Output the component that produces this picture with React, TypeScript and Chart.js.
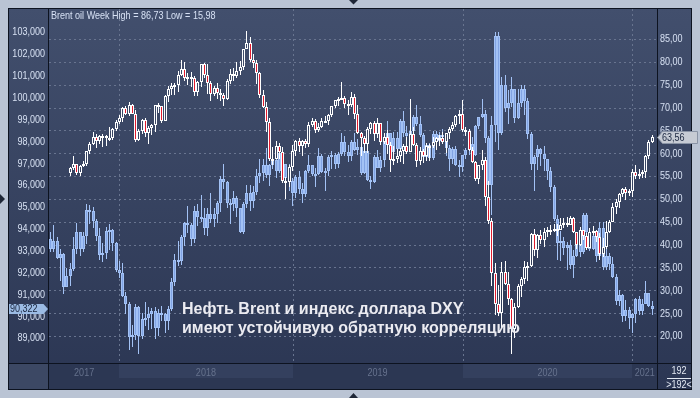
import { useEffect, useRef } from 'react';
import { Chart, registerables } from 'chart.js';

Chart.register(...registerables);

// ---------- data ----------
const firstWeek = '2017-08-07';
const weekCount = 186;

const dxyFirstOpen = 93.54;
const dxyClose = [
  93.06, 93.42, 92.68, 92.83, 91.35, 91.85, 92.16, 93.08, 93.83, 93.07,
  93.68, 94.88, 94.83, 94.37, 93.66, 92.81, 92.89, 93.91, 93.92, 93.35,
  92.12, 91.96, 90.94, 90.57, 89.04, 89.16, 90.41, 89.09, 89.88, 89.94,
  90.11, 90.25, 89.45, 90.16, 90.09, 89.80, 90.32, 91.55, 92.56, 92.52,
  93.64, 94.25, 94.18, 93.55, 94.80, 94.52, 94.47, 94.03, 94.67, 94.45,
  94.66, 95.16, 96.28, 96.12, 95.17, 95.14, 95.40, 94.93, 93.87, 95.13,
  95.63, 95.25, 95.70, 96.41, 96.54, 96.91, 96.45, 96.92, 97.16, 96.65,
  97.45, 96.96, 96.34, 96.18, 95.65, 96.36, 95.80, 95.58, 96.63, 96.90,
  96.51, 96.52, 97.31, 96.60, 96.63, 97.28, 97.39, 96.94, 97.40, 97.96,
  97.52, 97.33, 97.99, 97.62, 97.75, 96.54, 97.57, 96.21, 96.13, 97.30,
  96.80, 97.16, 98.02, 98.40, 97.52, 98.15, 97.66, 98.92, 98.40, 98.26,
  98.48, 99.11, 98.81, 98.30, 97.28, 97.83, 97.24, 98.35, 98.01, 98.27,
  98.27, 97.70, 97.17, 97.67, 96.92, 96.84, 97.36, 97.61, 97.87, 97.39,
  98.69, 99.10, 99.26, 98.13, 95.99, 98.75, 102.82, 98.36, 100.59, 99.52,
  99.75, 100.37, 99.07, 99.73, 100.38, 99.86, 98.34, 96.94, 97.30, 97.64,
  97.43, 97.17, 96.64, 95.90, 94.44, 93.35, 93.43, 93.10, 93.24, 92.36,
  92.75, 93.30, 92.93, 94.64, 93.84, 93.06, 93.68, 92.77, 94.04, 92.23,
  92.76, 92.39, 91.79, 90.70, 90.98, 90.02, 90.30, 89.94, 90.10, 90.77,
  90.24, 90.58, 91.04, 90.48, 90.322,
];
const dxyHigh = [
  93.87, 94.15, 93.61, 93.09, 92.87, 92.21, 92.44, 93.60, 94.27, 93.83,
  93.85, 95.15, 95.07, 94.98, 94.43, 94.05, 93.33, 94.08, 94.21, 93.98,
  93.39, 92.54, 92.43, 91.13, 90.64, 89.58, 90.56, 90.46, 90.13, 90.63,
  90.44, 90.36, 90.44, 90.31, 90.45, 90.13, 90.47, 91.77, 92.84, 93.42,
  93.71, 94.31, 95.03, 94.28, 95.05, 95.15, 95.53, 94.97, 94.96, 95.65,
  94.95, 95.26, 96.43, 96.98, 96.20, 95.35, 95.74, 95.48, 94.95, 95.24,
  96.00, 95.99, 95.95, 96.74, 97.20, 97.18, 97.69, 96.98, 97.53, 97.26,
  97.71, 97.44, 96.98, 96.96, 96.30, 96.45, 96.64, 96.10, 96.70, 97.37,
  96.90, 96.76, 97.71, 97.41, 96.78, 97.35, 97.55, 97.48, 97.50, 98.37,
  98.26, 97.82, 98.05, 98.37, 98.09, 97.85, 97.58, 97.70, 96.39, 97.35,
  97.59, 97.34, 98.09, 98.93, 98.22, 98.42, 98.44, 99.00, 99.37, 98.71,
  98.62, 99.21, 99.67, 99.14, 98.38, 97.86, 97.92, 98.45, 98.45, 98.41,
  98.54, 98.38, 97.85, 97.74, 97.80, 97.13, 97.39, 97.70, 97.98, 98.19,
  98.74, 99.11, 99.92, 99.43, 98.25, 99.14, 103.00, 102.99, 100.93, 101.03,
  100.36, 100.93, 100.37, 100.40, 100.56, 100.56, 99.97, 98.41, 97.36, 97.85,
  97.71, 97.80, 97.15, 96.84, 95.99, 94.62, 93.91, 93.63, 93.39, 93.49,
  93.04, 93.56, 93.37, 94.74, 94.74, 94.03, 93.90, 93.79, 94.30, 94.31,
  93.21, 92.90, 92.70, 91.92, 91.20, 91.03, 90.73, 90.40, 90.15, 90.81,
  90.93, 90.80, 91.60, 91.06, 90.71,
];
const dxyLow = [
  92.93, 92.95, 92.60, 91.62, 91.01, 91.33, 91.40, 92.08, 92.85, 92.75,
  92.95, 93.32, 94.20, 94.05, 93.46, 92.57, 92.50, 92.62, 93.03, 93.00,
  92.00, 91.75, 90.87, 90.10, 88.44, 88.60, 88.91, 88.25, 88.98, 89.54,
  89.36, 89.40, 88.95, 89.09, 89.77, 89.23, 89.38, 90.26, 91.36, 92.30,
  92.35, 93.21, 93.80, 93.20, 93.36, 94.12, 94.31, 93.71, 93.69, 94.26,
  94.06, 94.26, 94.78, 95.82, 94.94, 94.20, 94.82, 94.52, 93.81, 93.78,
  94.97, 94.79, 94.94, 95.53, 96.08, 96.19, 96.34, 95.97, 96.74, 96.34,
  96.56, 96.20, 96.22, 95.71, 95.03, 95.40, 95.60, 95.16, 95.45, 96.53,
  96.40, 95.89, 96.45, 96.54, 95.74, 96.39, 96.73, 96.74, 96.76, 97.32,
  97.33, 97.03, 97.09, 97.55, 97.36, 96.46, 96.51, 96.20, 95.84, 96.07,
  96.76, 96.59, 96.84, 97.85, 97.03, 97.24, 97.62, 97.79, 98.21, 97.76,
  97.95, 98.43, 98.68, 98.18, 97.20, 97.15, 97.10, 97.14, 97.87, 97.82,
  98.09, 97.34, 96.62, 96.95, 96.89, 96.36, 96.60, 97.17, 97.39, 97.35,
  97.33, 98.54, 99.05, 97.92, 95.97, 94.65, 97.99, 97.61, 98.27, 99.34,
  98.81, 99.56, 98.82, 99.01, 99.58, 99.18, 98.09, 96.68, 95.71, 96.70,
  96.87, 96.63, 96.23, 95.69, 94.36, 92.55, 92.52, 92.81, 92.13, 92.14,
  91.75, 92.72, 92.70, 92.85, 93.61, 92.97, 93.03, 92.47, 92.74, 92.13,
  92.13, 92.13, 91.76, 90.50, 90.48, 89.73, 89.80, 89.42, 89.21, 89.69,
  90.04, 90.06, 90.57, 90.42, 90.06,
];

const brentFirstWeek = 6;
const brentFirstOpen = 55.62;
const brentClose = [
  56.86, 57.54, 55.62, 57.17, 57.75, 60.44, 62.07, 63.52, 62.72, 63.86,
  63.73, 63.40, 63.23, 65.25, 66.87, 67.62, 69.87, 68.61, 70.52, 68.58,
  62.79, 64.84, 67.31, 64.37, 65.49, 66.21, 70.45, 70.27, 67.11, 72.58,
  74.06, 74.64, 74.87, 77.12, 78.51, 76.44, 76.79, 76.46, 73.44, 75.55,
  79.44, 77.11, 75.33, 73.07, 74.29, 73.21, 72.81, 71.83, 75.82, 77.42,
  76.83, 78.09, 78.80, 82.72, 84.16, 80.43, 79.78, 77.62, 72.83, 70.18,
  66.76, 58.80, 58.71, 61.67, 60.28, 53.82, 53.80, 57.06, 60.48, 62.70,
  61.64, 62.75, 62.10, 66.25, 67.12, 65.07, 65.74, 67.16, 67.03, 68.39,
  70.34, 71.55, 71.97, 72.15, 70.85, 70.62, 72.21, 68.69, 64.49, 63.29,
  62.01, 65.20, 66.55, 64.23, 66.72, 62.47, 63.46, 61.89, 58.53, 58.64,
  59.34, 60.43, 61.54, 60.22, 64.28, 61.91, 58.37, 60.51, 59.42, 61.67,
  61.69, 62.51, 63.30, 63.39, 62.43, 64.39, 65.22, 66.14, 68.16, 68.60,
  64.98, 64.85, 60.69, 58.16, 54.47, 57.32, 58.50, 50.52, 45.27, 33.85,
  26.98, 24.93, 34.11, 31.48, 28.08, 21.44, 26.44, 30.97, 32.50, 35.13,
  35.33, 42.30, 38.73, 42.19, 41.02, 42.80, 43.24, 43.14, 43.34, 43.30,
  44.40, 44.80, 44.35, 45.81, 42.66, 39.83, 43.15, 41.92, 39.27, 42.85,
  42.93, 41.77, 37.94, 39.45, 42.78, 44.96, 48.18, 49.25, 50.97, 52.26,
  51.29, 51.80, 55.99, 55.10, 55.41, 55.88, 59.34, 62.43, 63.56,
];
const brentHigh = [
  57.00, 59.49, 57.62, 57.32, 58.37, 60.53, 62.44, 64.65, 64.24, 64.10,
  64.18, 64.10, 65.83, 65.45, 67.29, 68.27, 70.05, 70.37, 71.28, 70.74,
  69.45, 65.27, 67.58, 67.68, 66.05, 66.47, 70.58, 71.02, 69.94, 72.70,
  74.75, 75.47, 75.30, 78.00, 80.50, 80.00, 77.50, 77.86, 77.00, 75.72,
  79.49, 79.70, 79.50, 75.78, 74.77, 75.40, 74.14, 73.22, 76.19, 78.35,
  78.63, 79.93, 80.13, 82.87, 86.74, 85.45, 81.63, 80.40, 77.69, 73.82,
  71.17, 67.80, 61.27, 62.74, 62.16, 61.27, 54.81, 57.38, 61.91, 62.96,
  63.31, 62.88, 63.19, 66.83, 67.73, 67.49, 66.59, 67.68, 68.26, 68.62,
  70.40, 71.66, 72.27, 75.60, 72.63, 71.67, 73.33, 73.02, 70.45, 64.66,
  63.87, 65.79, 66.81, 67.11, 67.64, 66.72, 64.48, 65.19, 62.50, 61.48,
  60.87, 61.15, 62.04, 63.45, 71.95, 65.85, 62.34, 61.36, 60.83, 62.18,
  61.97, 63.49, 63.48, 64.00, 64.66, 64.45, 65.84, 66.82, 68.28, 69.50,
  71.75, 65.76, 65.26, 61.43, 58.28, 57.43, 60.63, 59.26, 53.99, 45.86,
  35.94, 31.22, 36.25, 36.36, 33.99, 28.35, 27.18, 31.45, 32.92, 36.34,
  36.11, 42.65, 43.41, 42.35, 43.18, 43.61, 43.90, 44.29, 44.59, 44.44,
  45.88, 45.80, 46.00, 46.32, 46.03, 42.64, 43.81, 43.29, 42.50, 43.71,
  43.97, 43.30, 42.45, 41.46, 45.12, 45.29, 49.02, 49.92, 51.24, 52.48,
  52.53, 52.10, 56.60, 57.42, 56.61, 56.35, 59.61, 62.83, 64.10,
];
const brentLow = [
  55.10, 56.38, 55.33, 55.05, 56.90, 57.10, 59.90, 61.85, 61.24, 61.98,
  61.42, 61.58, 62.62, 62.91, 64.83, 66.45, 66.83, 68.27, 68.19, 68.53,
  62.53, 62.59, 64.27, 63.56, 62.05, 63.98, 64.68, 68.70, 66.62, 67.05,
  71.16, 72.66, 72.80, 73.44, 77.00, 75.82, 74.84, 74.50, 72.63, 72.45,
  74.55, 76.57, 73.03, 71.40, 72.54, 71.84, 71.46, 70.32, 71.76, 75.17,
  75.91, 76.38, 77.11, 78.26, 82.77, 79.95, 78.59, 75.09, 72.17, 69.87,
  64.61, 58.41, 57.50, 58.72, 58.69, 53.54, 50.00, 52.72, 56.18, 59.44,
  60.21, 59.46, 61.05, 61.29, 65.70, 64.50, 64.59, 65.52, 66.64, 66.25,
  67.83, 69.81, 70.39, 71.73, 69.81, 68.36, 70.20, 67.54, 64.18, 59.45,
  59.97, 60.14, 64.21, 62.60, 63.44, 61.74, 62.06, 59.81, 55.88, 57.51,
  57.88, 58.03, 57.67, 59.75, 63.00, 61.55, 56.98, 57.38, 57.84, 58.29,
  58.41, 61.08, 60.72, 61.68, 62.03, 60.08, 63.15, 64.88, 65.72, 66.45,
  64.55, 63.84, 60.55, 57.78, 53.90, 53.37, 56.43, 48.40, 44.43, 31.02,
  24.52, 24.45, 21.65, 31.14, 26.83, 15.98, 19.58, 26.22, 28.55, 31.40,
  32.10, 35.08, 37.61, 37.10, 40.22, 39.39, 41.64, 42.03, 42.67, 41.94,
  43.13, 43.62, 43.94, 44.56, 42.57, 39.01, 39.64, 40.94, 38.74, 39.25,
  42.18, 40.60, 36.64, 37.32, 39.11, 42.47, 45.25, 46.63, 48.08, 50.47,
  49.66, 50.59, 50.44, 54.37, 54.39, 54.60, 54.51, 58.72, 62.18,
];

const dxyTicks = [89, 90, 91, 92, 93, 94, 95, 96, 97, 98, 99, 100, 101, 102, 103];
const brentTicks = [20, 25, 30, 35, 40, 45, 50, 55, 60, 65, 70, 75, 80, 85];
const titleText = 'Brent oil Week High = 86,73 Low = 15,98';
const noteLines = ['Нефть Brent и индекс доллара DXY', 'имеют устойчивую обратную корреляцию'];
const barCountText = ['192', '>192<'];

// ---------- styling ----------
const W = 700;
const H = 398;
const SMALL_FONT = '10.5px "Liberation Sans", Arial, sans-serif';
const NARROW_SCALE = 0.86;
const FRAME = '#bac4d4';
const BG_TOP = '#424f6d';
const BG_BOT = '#2b3653';
const GRID = '#68748f';
const DXY_LINE = '#a3c2f5';
const DXY_FILL = '#82a4e4';
const BRENT_LINE = '#ffffff';
const BRENT_DOWN = '#e11b2e';
const AXIS_TEXT = '#d6e0f2';

function bgGradient(ctx: CanvasRenderingContext2D) {
  const g = ctx.createLinearGradient(0, 8, 0, 390);
  g.addColorStop(0, BG_TOP);
  g.addColorStop(1, BG_BOT);
  return g;
}

function weekLabels(): string[] {
  const start = new Date(firstWeek + 'T00:00:00Z').getTime();
  return Array.from({ length: weekCount }, (_, i) =>
    new Date(start + i * 7 * 86400000).toISOString().slice(0, 10)
  );
}

function candles(first: number, open0: number, close: number[], high: number[], low: number[]) {
  const bodies: ([number, number] | null)[] = [];
  const wicks: ([number, number] | null)[] = [];
  for (let i = 0; i < weekCount; i++) {
    const k = i - first;
    if (k < 0 || k >= close.length) {
      bodies.push(null);
      wicks.push(null);
      continue;
    }
    const o = k === 0 ? open0 : close[k - 1];
    const c = close[k];
    bodies.push([o, c]);
    wicks.push([Math.min(low[k], o, c), Math.max(high[k], o, c)]);
  }
  return { bodies, wicks };
}

const fmt = (v: number, d: number) => v.toFixed(d).replace('.', ',');

// condensed small text (the source uses a narrow UI font)
function narrowText(
  ctx: CanvasRenderingContext2D,
  text: string,
  x: number,
  y: number,
  align: CanvasTextAlign,
  baseline: CanvasTextBaseline = 'alphabetic'
) {
  ctx.save();
  ctx.font = SMALL_FONT;
  ctx.translate(x, y);
  ctx.scale(NARROW_SCALE, 1);
  ctx.textAlign = align;
  ctx.textBaseline = baseline;
  ctx.fillText(text, 0, 0);
  ctx.restore();
}

export default function App() {
  const ref = useRef<HTMLCanvasElement>(null);

  useEffect(() => {
    const canvas = ref.current;
    if (!canvas) return;
    const labels = weekLabels();
    const yearStarts: { idx: number; year: string }[] = [];
    labels.forEach((l, i) => {
      if (i > 0 && l.slice(0, 4) !== labels[i - 1].slice(0, 4)) yearStarts.push({ idx: i, year: l.slice(0, 4) });
    });
    const dxy = candles(0, dxyFirstOpen, dxyClose, dxyHigh, dxyLow);
    const brent = candles(brentFirstWeek, brentFirstOpen, brentClose, brentHigh, brentLow);

    const chromePlugin = {
      id: 'chrome',
      beforeDraw(chart: any) {
        const { ctx, chartArea: a } = chart;
        const xs = chart.scales.x;
        ctx.save();
        ctx.fillStyle = FRAME;
        ctx.fillRect(0, 0, W, H);
        ctx.fillStyle = bgGradient(ctx);
        ctx.fillRect(8, 8, 684, 382);
        ctx.fillStyle = '#2c3753';
        ctx.fillRect(a.left, a.bottom, a.right - a.left, 390 - a.bottom);
        const bounds = [a.left, ...yearStarts.map((y) => Math.round(xs.getPixelForValue(y.idx))), a.right];
        for (let s = 0; s < bounds.length - 1; s++) {
          if (s % 2 === 1) {
            ctx.fillStyle = '#34405e';
            ctx.fillRect(bounds[s], a.bottom, bounds[s + 1] - bounds[s], 15);
          }
        }
        ctx.fillStyle = '#3c4864';
        ctx.fillRect(8, a.bottom, a.left - 8, 390 - a.bottom);
        ctx.restore();
      },
      beforeDatasetsDraw(chart: any) {
        const { ctx, chartArea: a } = chart;
        const xs = chart.scales.x;
        const yR = chart.scales.yR;
        ctx.save();
        ctx.strokeStyle = GRID;
        ctx.lineWidth = 1;
        ctx.setLineDash([2, 3]);
        brentTicks.forEach((v) => {
          const y = Math.round(yR.getPixelForValue(v)) + 0.5;
          ctx.beginPath();
          ctx.moveTo(a.left, y);
          ctx.lineTo(a.right, y);
          ctx.stroke();
        });
        yearStarts.forEach((ys) => {
          const x = Math.round(xs.getPixelForValue(ys.idx)) + 0.5;
          ctx.beginPath();
          ctx.moveTo(x, a.top);
          ctx.lineTo(x, a.bottom);
          ctx.stroke();
        });
        ctx.restore();
        // snap candles to the pixel grid
        chart.data.datasets.forEach((ds: any, di: number) => {
          const meta = chart.getDatasetMeta(di);
          meta.data.forEach((el: any) => {
            if (el.x == null || isNaN(el.x)) return;
            el.x = Math.floor(el.x) + 0.5;
            el.y = Math.round(el.y);
            el.base = Math.round(el.base);
            if (ds.isBody && Math.abs(el.base - el.y) < 2) {
              el.base = el.y + 2;
            }
          });
        });
      },
      afterDraw(chart: any) {
        const { ctx, chartArea: a } = chart;
        const xs = chart.scales.x;
        const yL = chart.scales.yL;
        const yR = chart.scales.yR;
        ctx.save();
        // frame lines
        ctx.fillStyle = '#0d1320';
        ctx.fillRect(8, 8, 684, 1);
        ctx.fillRect(8, 8, 1, 382);
        ctx.fillRect(691, 8, 1, 382);
        ctx.fillRect(8, 389, 684, 1);
        ctx.fillRect(a.left - 1, 8, 1, 382);
        ctx.fillRect(a.right, 8, 1, 382);
        ctx.fillRect(8, a.bottom, 684, 1);

        // axis tick labels from the library's scales
        ctx.fillStyle = AXIS_TEXT;
        yL.ticks.forEach((t: any) => {
          narrowText(ctx, fmt(t.value, 3), a.left - 4, yL.getPixelForValue(t.value) + 0.5, 'right', 'middle');
        });
        yR.ticks.forEach((t: any) => {
          narrowText(ctx, fmt(t.value, 2), a.right + 3, yR.getPixelForValue(t.value) + 0.5, 'left', 'middle');
        });

        // title
        ctx.fillStyle = '#d7e1f4';
        narrowText(ctx, titleText, 51, 18.5, 'left');

        // year labels
        const bounds = [a.left, ...yearStarts.map((y) => xs.getPixelForValue(y.idx)), a.right];
        const years = [labels[0].slice(0, 4), ...yearStarts.map((y) => y.year)];
        ctx.fillStyle = '#66728d';
        for (let s = 0; s < years.length; s++) {
          narrowText(ctx, years[s], (bounds[s] + bounds[s + 1]) / 2, 375.5, 'center');
        }

        // bar count
        ctx.fillStyle = '#e2e8f2';
        narrowText(ctx, barCountText[0], 679, 374, 'center');
        ctx.fillRect(667, 378, 24, 1);
        narrowText(ctx, barCountText[1], 679, 388, 'center');

        // annotation
        ctx.font = 'bold 16px "Liberation Sans", Arial, sans-serif';
        ctx.fillStyle = '#ebebf1';
        ctx.textAlign = 'left';
        ctx.textBaseline = 'alphabetic';
        ctx.fillText(noteLines[0], 182, 314);
        ctx.fillText(noteLines[1], 182, 333);

        // last DXY value box (left)
        const lastDxy = dxyClose[dxyClose.length - 1];
        const ly = Math.round(yL.getPixelForValue(lastDxy));
        ctx.fillStyle = '#9bbbe4';
        ctx.beginPath();
        ctx.moveTo(9, ly - 5);
        ctx.lineTo(43.5, ly - 5);
        ctx.lineTo(48, ly);
        ctx.lineTo(43.5, ly + 5);
        ctx.lineTo(9, ly + 5);
        ctx.closePath();
        ctx.fill();
        ctx.fillStyle = '#1b2740';
        narrowText(ctx, fmt(lastDxy, 3), 10, ly + 0.5, 'left', 'middle');

        // last Brent value box (right)
        const lastBrent = brentClose[brentClose.length - 1];
        const ry = Math.round(yR.getPixelForValue(lastBrent));
        ctx.fillStyle = '#c6cbd4';
        ctx.strokeStyle = '#8a94a6';
        ctx.lineWidth = 1;
        ctx.beginPath();
        ctx.moveTo(657.5, ry + 0.5);
        ctx.lineTo(662.5, ry - 5.5);
        ctx.lineTo(697.5, ry - 5.5);
        ctx.lineTo(697.5, ry + 6.5);
        ctx.lineTo(662.5, ry + 6.5);
        ctx.closePath();
        ctx.fill();
        ctx.stroke();
        ctx.fillStyle = '#1b2740';
        narrowText(ctx, fmt(lastBrent, 2), 662, ry + 1, 'left', 'middle');

        // small scroll markers
        ctx.fillStyle = '#1e2636';
        ctx.beginPath();
        ctx.moveTo(349, 0); ctx.lineTo(358, 0); ctx.lineTo(353.5, 4.5); ctx.closePath(); ctx.fill();
        ctx.beginPath();
        ctx.moveTo(349, 398); ctx.lineTo(358, 398); ctx.lineTo(353.5, 393); ctx.closePath(); ctx.fill();
        ctx.beginPath();
        ctx.moveTo(0, 194); ctx.lineTo(5, 199); ctx.lineTo(0, 204); ctx.closePath(); ctx.fill();
        ctx.restore();
      },
    };

    const chart = new Chart(canvas, {
      type: 'bar',
      data: {
        labels,
        datasets: [
          {
            data: brent.bodies as any,
            xAxisID: 'x',
            yAxisID: 'yR',
            grouped: false,
            order: 0,
            barThickness: 3,
            borderWidth: 1,
            borderSkipped: false,
            inflateAmount: 0,
            borderColor: BRENT_LINE,
            backgroundColor: (c: any) => {
              const r = c.raw;
              if (!r) return 'transparent';
              return r[1] >= r[0] ? bgGradient(c.chart.ctx) : BRENT_DOWN;
            },
            isBody: true,
          } as any,
          {
            data: brent.wicks as any,
            xAxisID: 'x',
            yAxisID: 'yR',
            grouped: false,
            order: 1,
            barThickness: 1,
            borderWidth: 0,
            inflateAmount: 0,
            backgroundColor: BRENT_LINE,
          } as any,
          {
            data: dxy.bodies as any,
            xAxisID: 'x',
            yAxisID: 'yL',
            grouped: false,
            order: 2,
            barThickness: 3,
            borderWidth: 1,
            borderSkipped: false,
            inflateAmount: 0,
            borderColor: DXY_LINE,
            backgroundColor: DXY_FILL,
            isBody: true,
          } as any,
          {
            data: dxy.wicks as any,
            xAxisID: 'x',
            yAxisID: 'yL',
            grouped: false,
            order: 3,
            barThickness: 1,
            borderWidth: 0,
            inflateAmount: 0,
            backgroundColor: DXY_LINE,
          } as any,
        ],
      },
      options: {
        responsive: false,
        maintainAspectRatio: false,
        devicePixelRatio: 1,
        animation: false,
        layout: { padding: { top: 9, bottom: 35, left: 0, right: 0 } },
        plugins: { legend: { display: false }, tooltip: { enabled: false } },
        scales: {
          x: { type: 'category', display: false, offset: true, grid: { display: false } },
          yL: {
            type: 'linear',
            position: 'left',
            min: 87.86,
            max: 104.05,
            bounds: 'data',
            grid: { display: false, drawTicks: false },
            border: { display: false },
            afterFit: (s: any) => { s.width = 49; },
            afterBuildTicks: (s: any) => { s.ticks = dxyTicks.map((v) => ({ value: v })); },
            ticks: { display: false, autoSkip: false },
          },
          yR: {
            type: 'linear',
            position: 'right',
            min: 14.09,
            max: 91.57,
            bounds: 'data',
            grid: { display: false, drawTicks: false },
            border: { display: false },
            afterFit: (s: any) => { s.width = 43; },
            afterBuildTicks: (s: any) => { s.ticks = brentTicks.map((v) => ({ value: v })); },
            ticks: { display: false, autoSkip: false },
          },
        } as any,
      },
      plugins: [chromePlugin],
    });
    return () => chart.destroy();
  }, []);

  return (
    <div style={{ position: 'fixed', left: 0, top: 0, width: W, height: H, overflow: 'hidden' }}>
      <canvas ref={ref} width={W} height={H} style={{ display: 'block', width: W, height: H }} />
    </div>
  );
}
